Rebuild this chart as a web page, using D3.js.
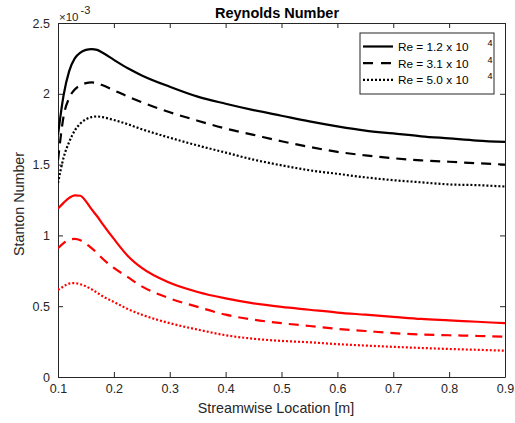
<!DOCTYPE html>
<html><head><meta charset="utf-8">
<script src="https://cdn.jsdelivr.net/npm/d3@7"></script>
<style>
body{margin:0;background:#fff;}
text{font-family:"Liberation Sans",Arial,Helvetica,sans-serif;}
</style></head>
<body><svg id="c" width="515" height="423"></svg>
<script>
const xs = [0.1,0.11,0.12,0.13,0.14,0.15,0.16,0.17,0.18,0.2,0.225,0.25,0.3,0.35,0.4,0.45,0.5,0.55,0.6,0.65,0.7,0.75,0.8,0.85,0.9];
const blackRe12 = [1.71,1.99,2.16,2.25,2.29,2.31,2.316,2.31,2.29,2.24,2.18,2.13,2.05,1.98,1.93,1.885,1.845,1.805,1.77,1.74,1.72,1.70,1.685,1.67,1.66];
const blackRe31 = [1.53,1.84,1.97,2.03,2.06,2.075,2.08,2.075,2.06,2.025,1.98,1.94,1.87,1.81,1.755,1.71,1.665,1.625,1.59,1.565,1.545,1.53,1.52,1.51,1.50];
const blackRe50 = [1.37,1.55,1.66,1.74,1.79,1.82,1.835,1.84,1.835,1.815,1.785,1.75,1.69,1.635,1.585,1.535,1.495,1.46,1.435,1.41,1.39,1.375,1.36,1.355,1.345];
const redRe12 = [1.19,1.23,1.265,1.283,1.28,1.24,1.185,1.135,1.08,0.975,0.855,0.77,0.665,0.6,0.555,0.52,0.495,0.475,0.455,0.44,0.425,0.41,0.40,0.39,0.38];
const redRe31 = [0.91,0.945,0.97,0.975,0.965,0.94,0.91,0.875,0.835,0.77,0.705,0.64,0.555,0.495,0.44,0.405,0.38,0.36,0.34,0.325,0.31,0.30,0.295,0.29,0.285];
const redRe50 = [0.615,0.64,0.66,0.663,0.655,0.64,0.62,0.595,0.57,0.53,0.48,0.44,0.38,0.335,0.295,0.27,0.255,0.245,0.232,0.222,0.213,0.205,0.198,0.192,0.186];
const xTicks = [0.1,0.2,0.3,0.4,0.5,0.6,0.7,0.8,0.9];
const yTicks = [0,0.5,1,1.5,2,2.5];
const legendLabels = ["Re = 1.2 x 10","Re = 3.1 x 10","Re = 5.0 x 10"];
const legendExp = ["4","4","4"];

const svg = d3.select("#c");
const L=58, R=505, T=23, B=377;
const x = d3.scaleLinear().domain([0.1,0.9]).range([L,R]);
const y = d3.scaleLinear().domain([0,2.5]).range([B,T]);
const axisCol = "#262626";
const fmt = d => d===0?"0":String(d);

// axes
const gB = svg.append("g").attr("transform",`translate(0,${B})`)
  .call(d3.axisBottom(x).tickValues(xTicks).tickFormat(fmt).tickSizeInner(-5).tickSizeOuter(0).tickPadding(7));
const gT = svg.append("g").attr("transform",`translate(0,${T})`)
  .call(d3.axisTop(x).tickValues(xTicks).tickFormat("").tickSizeInner(-5).tickSizeOuter(0));
const gL = svg.append("g").attr("transform",`translate(${L},0)`)
  .call(d3.axisLeft(y).tickValues(yTicks).tickFormat(fmt).tickSizeInner(-5).tickSizeOuter(0).tickPadding(8));
const gR = svg.append("g").attr("transform",`translate(${R},0)`)
  .call(d3.axisRight(y).tickValues(yTicks).tickFormat("").tickSizeInner(-5).tickSizeOuter(0));
[gB,gT,gL,gR].forEach(g=>{
  g.select(".domain").attr("stroke",axisCol).attr("stroke-width",1);
  g.selectAll(".tick line").attr("stroke",axisCol);
  g.selectAll("text").attr("fill",axisCol).attr("font-size",12.5).attr("font-family","Liberation Sans,Arial,sans-serif");
});

// curves
const line = d3.line().x((d,i)=>x(xs[i])).y(d=>y(d)).curve(d3.curveMonotoneX);
const series = [
  {v:blackRe12,c:"#000",dash:null},
  {v:blackRe31,c:"#000",dash:"10,7"},
  {v:blackRe50,c:"#000",dash:"2,2"},
  {v:redRe12,c:"#ff0000",dash:null},
  {v:redRe31,c:"#ff0000",dash:"10,7"},
  {v:redRe50,c:"#ff0000",dash:"2,2"}
];
svg.append("clipPath").attr("id","cp").append("rect").attr("x",L).attr("y",T).attr("width",R-L).attr("height",B-T);
series.forEach(s=>{
  svg.append("path").attr("d",line(s.v)).attr("fill","none").attr("stroke",s.c)
    .attr("stroke-width",2.2).attr("stroke-dasharray",s.dash).attr("clip-path","url(#cp)");
});

// title
svg.append("text").attr("x",277).attr("y",18).attr("text-anchor","middle")
  .attr("font-size",14.5).attr("font-weight","bold").attr("fill","#000").text("Reynolds Number");
// exponent
const ex = svg.append("text").attr("x",59).attr("y",20.5).attr("font-size",11.5).attr("fill",axisCol);
ex.append("tspan").text("\u00d710");
ex.append("tspan").attr("dy",-7).attr("dx",2).attr("font-size",11).text("-3");
// axis labels
svg.append("text").attr("x",276).attr("y",413).attr("text-anchor","middle")
  .attr("font-size",14.3).attr("fill",axisCol).text("Streamwise Location [m]");
svg.append("text").attr("transform","translate(24,204) rotate(-90)").attr("text-anchor","middle")
  .attr("font-size",14.3).attr("fill",axisCol).text("Stanton Number");

// legend
const lg = svg.append("g");
lg.append("rect").attr("x",360).attr("y",33).attr("width",134).attr("height",61)
  .attr("fill","#fff").attr("stroke",axisCol).attr("stroke-width",1);
const legDash=[null,"10,8","2,2"];
legendLabels.forEach((lab,i)=>{
  const yy = 46.5 + i*16.7;
  lg.append("line").attr("x1",363).attr("x2",393).attr("y1",yy).attr("y2",yy)
    .attr("stroke","#000").attr("stroke-width",2.2).attr("stroke-dasharray",legDash[i]);
  lg.append("text").attr("x",398).attr("y",yy+4.5).attr("font-size",11.8).attr("fill","#000").text(lab);
  lg.append("text").attr("x",487.5).attr("y",yy-0.5).attr("font-size",9).attr("fill","#000").text(legendExp[i]);
});
</script></body></html>
